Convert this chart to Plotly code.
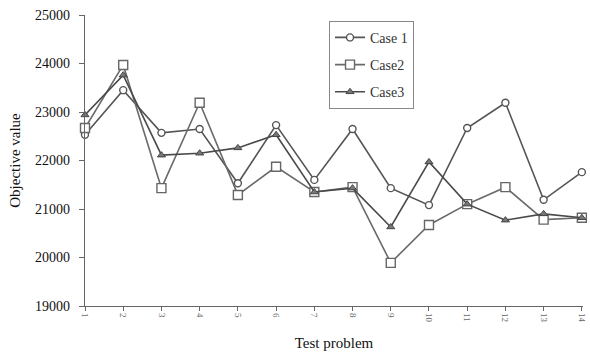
import plotly.graph_objects as go

problems = list(range(1, 15))
tick_labels = [str(i) for i in problems]
case1 = [22530, 23450, 22570, 22650, 21530, 22730, 21600, 22650, 21430, 21080, 22670, 23190, 21190, 21760]
case2 = [22670, 23970, 21430, 23190, 21290, 21870, 21350, 21450, 19890, 20670, 21100, 21450, 20780, 20820]
case3 = [22940, 23760, 22110, 22150, 22260, 22530, 21350, 21430, 20630, 21970, 21100, 20770, 20900, 20820]

serif = "Liberation Serif, Times New Roman, serif"
fig = go.Figure()
fig.add_trace(go.Scatter(x=problems, y=case1, name="Case 1", mode="lines+markers", legendgroup="a",
                         line=dict(color="#555555", width=1.6),
                         marker=dict(symbol="circle", size=7, color="white", line=dict(color="#555555", width=1.4)),
                         cliponaxis=False))
fig.add_trace(go.Scatter(x=problems, y=case2, name="Case2", mode="lines+markers", legendgroup="b",
                         line=dict(color="#6a6a6a", width=1.6),
                         marker=dict(symbol="square", size=9, color="white", line=dict(color="#666666", width=1.4)),
                         cliponaxis=False))
fig.add_trace(go.Scatter(x=problems, y=case3, name="Case3", mode="lines+markers", legendgroup="c",
                         line=dict(color="#4a4a4a", width=1.6),
                         marker=dict(symbol="triangle-up", size=7, color="#777777", line=dict(color="#444444", width=1)),
                         cliponaxis=False))

fig.update_layout(
    width=590, height=358,
    margin=dict(l=85, r=3, t=15, b=52),
    paper_bgcolor="white", plot_bgcolor="white",
    font=dict(family=serif, size=13, color="#111111"),
    showlegend=True,
    legend=dict(x=0.49, y=0.98, xanchor="left", yanchor="top",
                bordercolor="#888888", borderwidth=1, bgcolor="white",
                font=dict(family=serif, size=14, color="#333333"),
                tracegroupgap=6, itemwidth=30),
    xaxis=dict(range=[1, 14.03], tickmode="array", tickvals=problems, ticktext=tick_labels,
               tickangle=90, tickfont=dict(size=9, color="#666666"), ticklabeloverflow="allow",
               showgrid=False, zeroline=False, showline=True, linecolor="#666666", linewidth=1.2,
               ticks="outside", ticklen=4, tickcolor="#666666",
               title=dict(text="Test problem", font=dict(family=serif, size=15, color="#111111"), standoff=16)),
    yaxis=dict(range=[19000, 25000], tickmode="array",
               tickvals=[19000, 20000, 21000, 22000, 23000, 24000, 25000],
               ticktext=["19000", "20000", "21000", "22000", "23000", "24000", "25000"],
               showgrid=False, zeroline=False, showline=True, linecolor="#666666", linewidth=1.2,
               ticks="outside", ticklen=5, tickcolor="#666666", ticklabelstandoff=6,
               tickfont=dict(family=serif, size=14, color="#111111"),
               title=dict(text="Objective value", font=dict(family=serif, size=15, color="#111111"), standoff=10)),
)

fig.write_html("out.html")
